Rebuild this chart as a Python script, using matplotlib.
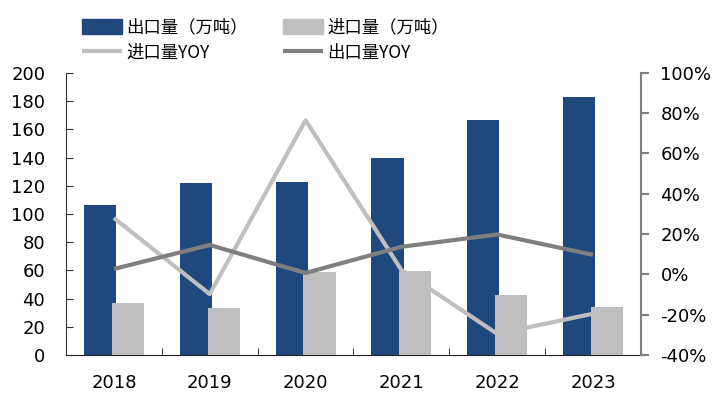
import matplotlib
matplotlib.use("Agg")
import matplotlib.pyplot as plt
import numpy as np
from matplotlib.lines import Line2D
from matplotlib.patches import Patch

plt.rcParams['font.family'] = ['DejaVu Sans', 'Noto Sans CJK SC']

years = ["2018", "2019", "2020", "2021", "2022", "2023"]
export_vol = [106.5, 122.0, 122.7, 139.7, 166.7, 183.0]
import_vol = [36.9, 33.3, 58.5, 59.6, 42.5, 34.0]
import_yoy = [28.0, -9.8, 76.5, 2.2, -29.5, -19.5]
export_yoy = [2.7, 14.6, 0.7, 13.7, 19.8, 9.7]

c_blue = "#1F497D"
c_lgrey = "#BFBFBF"
c_dgrey = "#7F7F7F"

fig = plt.figure(figsize=(7.16, 3.94), dpi=100)
ax = fig.add_axes([0.0922, 0.099, 0.803, 0.716])
ax2 = ax.twinx()

x = np.arange(len(years))
w = 0.335
off = 0.145
b1 = ax.bar(x - off, export_vol, w, color=c_blue, zorder=2)
b2 = ax.bar(x + off, import_vol, w, color=c_lgrey, zorder=3)

l1, = ax2.plot(x, import_yoy, color=c_lgrey, lw=3, solid_capstyle='butt')
l2, = ax2.plot(x, export_yoy, color=c_dgrey, lw=3, solid_capstyle='butt')

ax.set_xlim(-0.5, len(years) - 0.5)
ax.set_ylim(0, 200)
ax.set_yticks(np.arange(0, 201, 20))
ax2.set_ylim(-40, 100)
ax2.set_yticks(np.arange(-40, 101, 20))
ax2.set_yticklabels([f"{v}%" for v in range(-40, 101, 20)])

ax.set_xticks(x)
ax.set_xticklabels(years)
ax.set_xticks(np.arange(-0.5, len(years) + 0.5, 1), minor=True)
ax.tick_params(axis='x', which='major', length=0, pad=14, labelsize=13)
ax.tick_params(axis='x', which='minor', length=5, direction='in', color='#222222')
ax.tick_params(axis='y', direction='in', length=5, pad=15, labelsize=13, color='#333333')
ax2.tick_params(axis='y', direction='out', length=6, pad=8, labelsize=13, color=c_dgrey, width=1.5)

for s in ['top', 'right']:
    ax.spines[s].set_visible(False)
for s in ['top', 'left', 'bottom']:
    ax2.spines[s].set_visible(False)
ax.spines['left'].set_color('#333333')
ax.spines['bottom'].set_color('#222222')
ax2.spines['right'].set_color(c_dgrey)
ax2.spines['right'].set_linewidth(1.5)

handles = [Patch(color=c_blue), l1, Patch(color=c_lgrey), l2]
labels = ["出口量（万吨）", "进口量YOY", "进口量（万吨）", "出口量YOY"]
fig.legend(handles, labels, ncol=2, loc='upper left', bbox_to_anchor=(0.100, 0.98),
           frameon=False, prop={'family': ['Noto Sans CJK SC'], 'size': 12.5},
           handlelength=2.3, handleheight=1.0, handletextpad=0.25, columnspacing=2.0,
           labelspacing=0.45, borderaxespad=0.2)

fig.savefig("out.png", dpi=100)
